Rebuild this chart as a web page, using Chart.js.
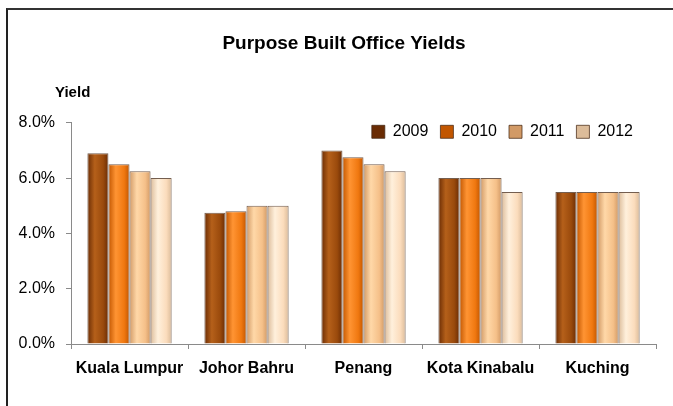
<!DOCTYPE html>
<html>
<head>
<meta charset="utf-8">
<script src="https://cdn.jsdelivr.net/npm/chart.js@4"></script>
<style>
  html, body { margin: 0; padding: 0; background: #fff; }
  #wrap { position: relative; width: 673px; height: 406px; }
  #frame { position: absolute; left: 6px; top: 8px; right: 0; bottom: 0;
           border-left: 2px solid #222; border-top: 2px solid #333; pointer-events: none; }
</style>
</head>
<body>
<div id="wrap">
  <canvas id="myChart" width="673" height="406"></canvas>
  <div id="frame"></div>
</div>
<script>
"use strict"

// data (yield in %)
const cities = ['Kuala Lumpur', 'Johor Bahru', 'Penang', 'Kota Kinabalu', 'Kuching']
const years = ['2009', '2010', '2011', '2012']
const yield_2009 = [6.9, 4.75, 7.0, 6.0, 5.5]
const yield_2010 = [6.5, 4.8, 6.75, 6.0, 5.5]
const yield_2011 = [6.25, 5.0, 6.5, 6.0, 5.5]
const yield_2012 = [6.0, 5.0, 6.25, 5.5, 5.5]
const y_ticks = [0, 2, 4, 6, 8]

// edge colour, highlight colour, flat colour (legend)
const shades = [
    ['#6a2c04', '#b5601a', '#9a4a0c'],
    ['#c25600', '#ff9433', '#f07810'],
    ['#d29a66', '#ffd8a8', '#f5c089'],
    ['#dcbc9a', '#fff0dc', '#fbdcbc'],
]
const CAT_PCT = 0.72

Chart.defaults.font.family = "'Liberation Sans', Arial, sans-serif"
Chart.defaults.color = '#000'

function barFill(s){
    return function(c){
        const chart = c.chart
        if (c.type !== 'data' || !chart.chartArea || !chart.scales.x) return shades[s][2]
        const xs = chart.scales.x
        const catW = xs.width / cities.length
        const gw = catW * CAT_PCT
        const bw = gw / years.length
        const left = xs.getPixelForValue(c.dataIndex) - gw / 2 + c.datasetIndex * bw
        const g = chart.ctx.createLinearGradient(left, 0, left + bw, 0)
        g.addColorStop(0, shades[s][0])
        g.addColorStop(0.35, shades[s][1])
        g.addColorStop(0.75, shades[s][2])
        g.addColorStop(1, shades[s][0])
        return g
    }
}

const all_values = [yield_2009, yield_2010, yield_2011, yield_2012]
let datasets = []
for (const [i, yr] of years.entries()){
    datasets.push({
        label: yr,
        data: all_values[i],
        backgroundColor: barFill(i),
        borderColor: 'rgba(70,40,20,0.75)',
        borderWidth: 1,
        barPercentage: 1.0,
        categoryPercentage: CAT_PCT,
    })
}

// move title, subtitle and legend to where the picture has them
const nudge = {
    id: 'nudge',
    beforeLayout(chart){
        // legend sits inside the plot, so it should take no room
        const lg = chart.legend
        if (lg && !lg._noHeight){
            const fit = lg.fit.bind(lg)
            lg.fit = function(){ fit(); this.height = 0 }
            lg._noHeight = true
        }
    },
    afterLayout(chart){
        const ca = chart.chartArea
        if (chart.titleBlock) chart.titleBlock.left = 32
        for (const b of chart.boxes){
            if (b.options && b.options.text === 'Yield'){
                b.left = 55
            }
        }
        const lg = chart.legend
        if (lg){
            lg.right = ca.right - 11
            lg.top = ca.top - 11
            lg.bottom = ca.top + 30
            lg.height = lg.bottom - lg.top
        }
    }
}

const ctx = document.getElementById('myChart')
const yield_chart = new Chart(ctx, {
    type: 'bar',
    data: { labels: cities, datasets: datasets },
    plugins: [nudge],
    options: {
        responsive: false,
        animation: false,
        layout: { padding: { left: 0, right: 17, top: 0, bottom: 0 } },
        plugins: {
            title: {
                display: true,
                text: 'Purpose Built Office Yields',
                font: { size: 19, weight: 'bold' },
                padding: { top: 32, bottom: 0 },
            },
            subtitle: {
                display: true,
                text: 'Yield',
                align: 'start',
                font: { size: 15, weight: 'bold' },
                padding: { top: 29, bottom: 21 },
            },
            legend: {
                position: 'top',
                align: 'end',
                labels: {
                    boxWidth: 13,
                    boxHeight: 13,
                    padding: 12,
                    font: { size: 16 },
                    color: '#000',
                },
            },
            tooltip: { enabled: false },
        },
        scales: {
            x: {
                grid: { drawOnChartArea: false, drawTicks: true, tickLength: 5, color: '#8a8a8a', offset: true },
                border: { display: true, color: '#8a8a8a', width: 1 },
                ticks: { font: { size: 16, weight: 'bold' }, padding: 10, maxRotation: 0 },
                afterFit(scale){ scale.height = 62 },
            },
            y: {
                min: 0,
                max: 8,
                afterBuildTicks(scale){ scale.ticks = y_ticks.map(v => ({ value: v })) },
                grid: { drawOnChartArea: false, drawTicks: true, tickLength: 5, color: '#8a8a8a' },
                border: { display: true, color: '#8a8a8a', width: 1 },
                ticks: {
                    font: { size: 16 },
                    padding: 11,
                    callback: (v) => Number(v).toFixed(1) + '%',
                },
                afterFit(scale){ scale.width = 71 },
            },
        },
    },
})
</script>
</body>
</html>
